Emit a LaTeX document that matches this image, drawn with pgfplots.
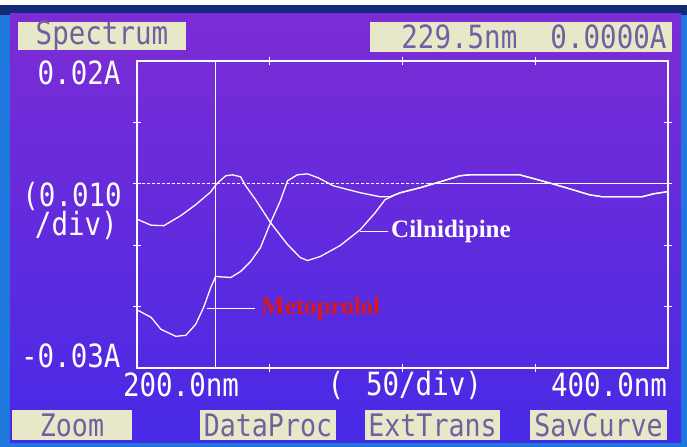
\documentclass[border=0pt]{standalone}
\usepackage{pgfplots}
\pgfplotsset{compat=1.18}
\usepackage{pgfplotstable}
\usepackage{fontspec}
\setmainfont{Liberation Serif}
\newfontfamily\lcd{DejaVu Sans Mono}[FakeStretch=0.86]
\definecolor{scrtop}{RGB}{124,44,212}
\definecolor{scrbot}{RGB}{72,42,230}
\definecolor{boxfill}{RGB}{230,232,200}
\definecolor{boxtext}{RGB}{112,96,160}
\definecolor{frameblue}{RGB}{30,120,222}
\definecolor{navyband}{RGB}{20,40,120}
\definecolor{metred}{RGB}{215,25,30}

\pgfplotstableread{
nm A
200.4 -0.00584
205.3 -0.00674
210.1 -0.00682
216.5 -0.00519
222.1 -0.00341
227.8 -0.00130
230.0 0.00000
233.4 0.00130
236.0 0.00146
239.0 0.00114
240.9 -0.00032
244.7 -0.00260
250.3 -0.00633
256.7 -0.00990
261.5 -0.01201
264.2 -0.01250
269.0 -0.01185
276.5 -0.01006
284.1 -0.00747
289.7 -0.00471
293.4 -0.00260
297.2 -0.00179
299.1 -0.00146
306.6 -0.00065
314.1 0.00032
321.6 0.00130
325.3 0.00146
344.1 0.00146
349.7 0.00081
356.5 0.00000
362.9 -0.00081
370.4 -0.00179
375.2 -0.00211
390.2 -0.00211
394.7 -0.00162
399.6 -0.00130
}\cilnidipine

\pgfplotstableread{
nm A
200.4 -0.02062
205.3 -0.02175
209.0 -0.02370
214.6 -0.02484
218.4 -0.02468
222.1 -0.02289
225.1 -0.02013
227.8 -0.01688
229.6 -0.01510
235.3 -0.01526
239.0 -0.01429
242.8 -0.01266
246.5 -0.01039
250.3 -0.00633
254.0 -0.00276
256.7 0.00049
260.4 0.00146
264.2 0.00162
268.3 0.00097
273.9 -0.00032
284.1 -0.00146
291.6 -0.00211
295.3 -0.00211
297.2 -0.00179
299.1 -0.00146
306.6 -0.00065
314.1 0.00032
321.6 0.00130
325.3 0.00146
344.1 0.00146
349.7 0.00081
356.5 0.00000
362.9 -0.00081
370.4 -0.00179
375.2 -0.00211
390.2 -0.00211
394.7 -0.00162
399.6 -0.00130
}\metoprolol

\begin{document}
\begin{tikzpicture}
\begin{scope}[x=1bp,y=1bp]
\useasboundingbox (0,0) rectangle (687,447);
\fill[frameblue] (0,0) rectangle (687,447);
\fill[navyband] (0,432) rectangle (687,442);
\fill[white] (0,442) rectangle (687,447);
\fill[top color=scrtop, bottom color=scrbot] (10,4) rectangle (681,433);
% top boxes
\fill[boxfill] (18,397) rectangle (186,425);
\node[text=boxtext, font=\lcd\fontsize{32bp}{33bp}\selectfont, anchor=center] at (102,411) {Spectrum};
\fill[boxfill] (370,395) rectangle (672,425);
\node[text=boxtext, font=\lcd\fontsize{32bp}{33bp}\selectfont, anchor=east] at (670,410) {229.5nm\ \ 0.0000A};
% left labels
\node[text=white, font=\lcd\fontsize{32bp}{33bp}\selectfont, anchor=east] at (124,374) {0.02A};
\node[text=white, font=\lcd\fontsize{32bp}{26bp}\selectfont, anchor=east, align=right, inner sep=0pt] at (122,236) {(0.010\\/div)\hspace*{4bp}};
\node[text=white, font=\lcd\fontsize{32bp}{33bp}\selectfont, anchor=east] at (124,91) {-0.03A};
% bottom labels
\node[text=white, font=\lcd\fontsize{32bp}{33bp}\selectfont, anchor=center] at (181,62) {200.0nm};
\node[text=white, font=\lcd\fontsize{32bp}{33bp}\selectfont, anchor=center] at (336,62) {(};
\node[text=white, font=\lcd\fontsize{32bp}{33bp}\selectfont, anchor=center] at (424,62) {50/div)};
\node[text=white, font=\lcd\fontsize{32bp}{33bp}\selectfont, anchor=center] at (609,62) {400.0nm};
% buttons
\foreach \xa/\xb/\lab in {12/132/Zoom, 200/336/DataProc, 365/500/ExtTrans, 530/667/SavCurve}{
  \fill[boxfill] (\xa,7) rectangle (\xb,37);
  \node[text=boxtext, font=\lcd\fontsize{31bp}{32bp}\selectfont, anchor=center] at ({(\xa+\xb)/2},22) {\lab};
}
\end{scope}

\begin{axis}[
  at={(137bp,79bp)}, anchor=south west,
  scale only axis, width=531bp, height=307bp,
  xmin=200, xmax=400, ymin=-0.03, ymax=0.02,
  scaled y ticks=false, scaled x ticks=false,
  axis line style={white, line width=1.3pt},
  xtick={250,300,350}, ytick={-0.02,-0.01,0,0.01},
  xticklabels={}, yticklabels={},
  tick style={white, line width=1pt},
  major tick length=8bp, tick align=center,
  xtick pos=both, ytick pos=both,
]
\addplot[white, line width=0.8pt, dash pattern=on 3pt off 2pt] coordinates {(200,0) (310,0)};
\addplot[white, line width=0.8pt] coordinates {(310,0) (400,0)};
\addplot[white, line width=1.2pt] coordinates {(229.5,-0.03) (229.5,0.02)};
\addplot[white, line width=1.3pt] table[x=nm, y=A] {\cilnidipine};
\addplot[white, line width=1.3pt] table[x=nm, y=A] {\metoprolol};
\end{axis}

\begin{scope}[x=1bp,y=1bp]
\draw[white, line width=1pt] (360,215) -- (388,215);
\node[text=white, font=\bfseries\fontsize{25bp}{26bp}\selectfont, anchor=west, inner sep=0pt] at (391,216) {Cilnidipine};
\draw[white, line width=1pt] (207,138) -- (255,138);
\node[text=metred, font=\bfseries\fontsize{25bp}{26bp}\selectfont, anchor=west, inner sep=0pt] at (261,139) {Metoprolol};
\end{scope}
\end{tikzpicture}
\end{document}
